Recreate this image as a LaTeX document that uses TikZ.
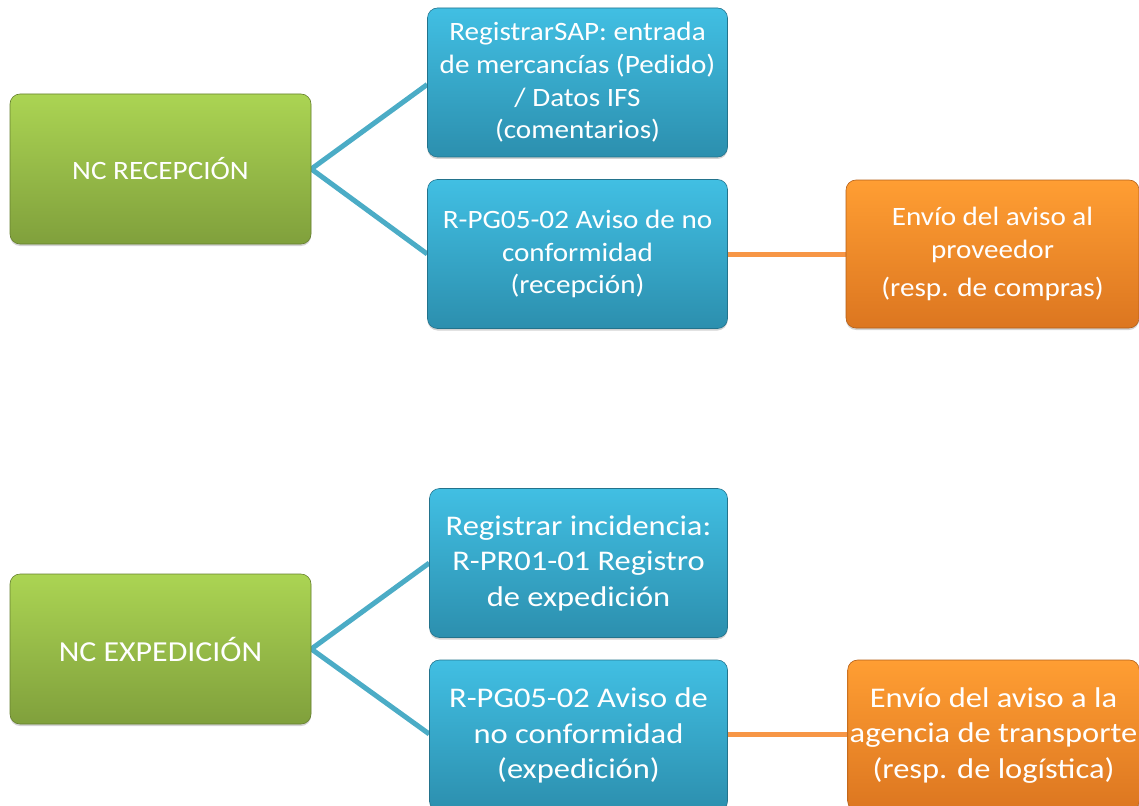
\documentclass[tikz,border=0pt]{standalone}
\usepackage{fontspec}
\setmainfont{Carlito}
\newfontfamily\wideA[FakeStretch=1.10]{Carlito}
\newfontfamily\wideB[FakeStretch=1.14]{Carlito}
\usetikzlibrary{backgrounds,shadows}
\definecolor{gTop}{HTML}{ABD453}
\definecolor{gBot}{HTML}{80A03C}
\definecolor{gEdge}{HTML}{66802E}
\definecolor{bTop}{HTML}{41BFE3}
\definecolor{bBot}{HTML}{2C8FAE}
\definecolor{bEdge}{HTML}{23738C}
\definecolor{oTop}{HTML}{FF9E33}
\definecolor{oBot}{HTML}{DC7620}
\definecolor{oEdge}{HTML}{B45F18}
\definecolor{bLine}{HTML}{4BACC6}
\definecolor{oLine}{HTML}{F79646}
\tikzset{
  box/.style={rectangle, rounded corners=10pt, align=center, text=white,
    inner sep=2pt, drop shadow={shadow xshift=0pt, shadow yshift=-2pt, opacity=0.35}},
  greenbox/.style={box, top color=gTop, bottom color=gBot, draw=gEdge, line width=0.6pt,
    minimum width=301pt, minimum height=150pt},
  bluebox/.style={box, top color=bTop, bottom color=bBot, draw=bEdge, line width=0.6pt,
    minimum width=300pt, minimum height=149pt},
  orangebox/.style={box, top color=oTop, bottom color=oBot, draw=oEdge, line width=0.6pt,
    minimum width=293pt, minimum height=148pt},
  topfont/.style={font=\wideA\fontsize{26.5}{32.7}\selectfont},
  botfont/.style={font=\wideB\fontsize{28.5}{35.5}\selectfont},
  gfontA/.style={font=\wideA\fontsize{26.5}{32}\selectfont},
  gfontB/.style={font=\wideA\fontsize{29}{34}\selectfont},
  bconn/.style={draw=bLine, line width=5pt},
  oconn/.style={draw=oLine, line width=5pt}
}
\begin{document}
\begin{tikzpicture}[x=1pt,y=-1pt]
\useasboundingbox (0,0) rectangle (1139,805);
% upper group
\node[greenbox,gfontA] (g1) at (160.5,169) {NC RECEPCIÓN};
\node[bluebox,topfont] (b1) at (577.5,82.5) {RegistrarSAP: entrada\\de mercancías (Pedido)\\/ Datos IFS\\(comentarios)};
\node[bluebox,topfont] (b2) at (577.5,254) {R-PG05-02 Aviso de no\\conformidad\\(recepción)};
\node[orangebox,topfont] (o1) at (992.5,254) {Envío del aviso al\\proveedor\\[6pt](resp. de compras)};
% lower group
\node[greenbox,gfontB] (g2) at (160.5,649) {NC EXPEDICIÓN};
\node[bluebox,botfont,minimum width=298pt] (b3) at (578.5,563) {Registrar incidencia:\\R-PR01-01 Registro\\de expedición};
\node[bluebox,botfont,minimum width=298pt,minimum height=151pt] (b4) at (578.5,735.5) {R-PG05-02 Aviso de\\no conformidad\\(expedición)};
\node[orangebox,botfont,minimum width=291pt,minimum height=151pt] (o2) at (993.5,735.5) {Envío del aviso a la\\agencia de transporte\\(resp. de logística)};
\begin{scope}[on background layer]
\draw[bconn] (g1.east) -- ([yshift=-2pt]b1.west);
\draw[bconn] (g1.east) -- (b2.west);
\draw[oconn] (b2.east) -- (o1.west);
\draw[bconn] (g2.east) -- (b3.west);
\draw[bconn] (g2.east) -- ([yshift=1.5pt]b4.west);
\draw[oconn] ([yshift=1.5pt]b4.east) -- ([yshift=1.5pt]o2.west);
\end{scope}
\end{tikzpicture}
\end{document}
